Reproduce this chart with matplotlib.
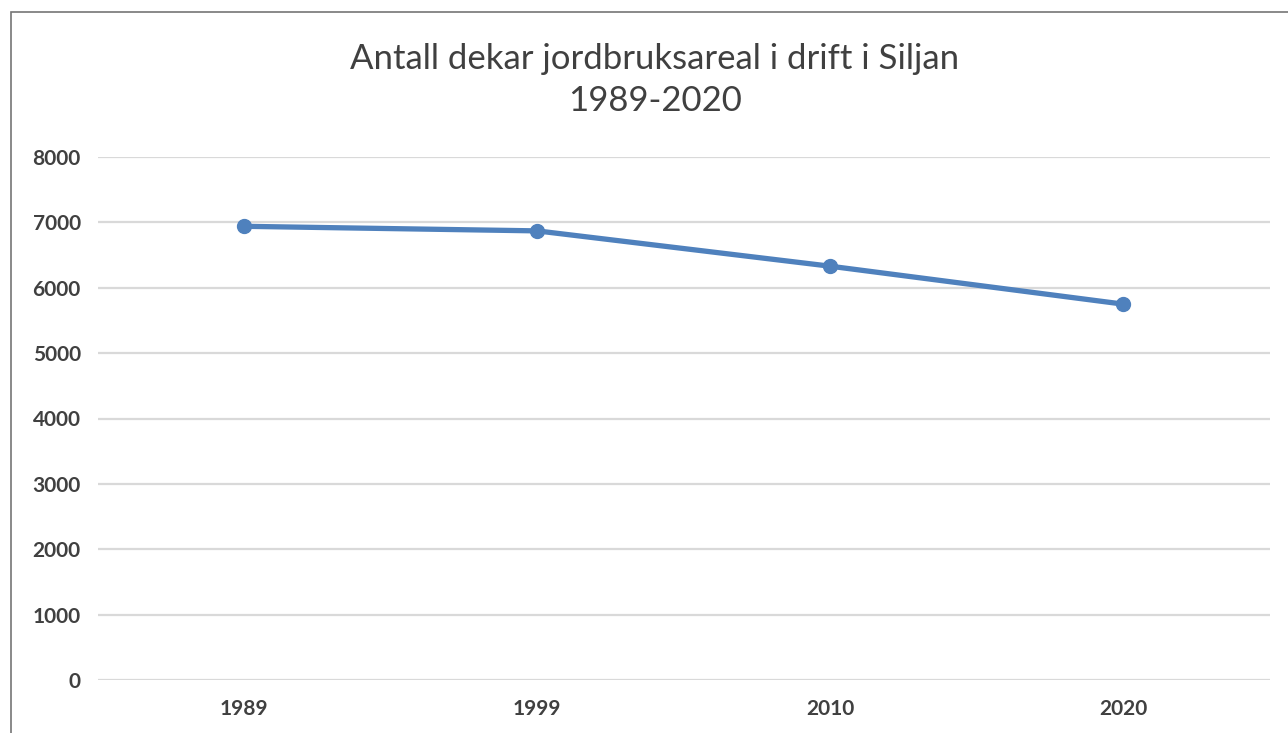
import matplotlib.pyplot as plt
from matplotlib.patches import Rectangle

# Data
aar = ['1989', '1999', '2010', '2020']
dekar = [6940, 6870, 6330, 5750]
y_ticks = [0, 1000, 2000, 3000, 4000, 5000, 6000, 7000, 8000]

plt.rcParams['font.family'] = ['Lato', 'DejaVu Sans']

W, H = 1288, 733
fig = plt.figure(figsize=(W / 100, H / 100), dpi=100)
ax = fig.add_axes([97.5 / W, 1 - 680 / H, (1269.5 - 97.5) / W, (680 - 157) / H])

x = range(len(aar))
ax.plot(x, dekar, color='#4f81bd', linewidth=3.8, marker='o', markersize=10,
        solid_capstyle='round', zorder=3)

ax.set_xlim(-0.5, len(aar) - 0.5)
ax.set_ylim(0, 8000)
ax.set_xticks(list(x))
ax.set_xticklabels(aar)
ax.set_yticks(y_ticks)
ax.set_yticklabels([str(v) for v in y_ticks])

ax.grid(axis='y', color='#d9d9d9', linewidth=1.6)
ax.set_axisbelow(True)
for s in ax.spines.values():
    s.set_visible(False)
ax.tick_params(length=0, labelsize=15, colors='#404040', pad=12)
ax.tick_params(axis='x', pad=14)
for lab in ax.get_xticklabels() + ax.get_yticklabels():
    lab.set_fontweight('bold')

fig.text(655 / W, 1 - 80 / H, 'Antall dekar jordbruksareal i drift i Siljan\n1989-2020',
         ha='center', va='center', fontsize=25, color='#404040', linespacing=1.38)

# chart frame
fig.patches.append(Rectangle((10.5 / W, -0.1), 1.2, 1 - 12 / H + 0.1,
                             transform=fig.transFigure, fill=False,
                             edgecolor='#767676', linewidth=1.2))

fig.savefig('out.png', dpi=100)
